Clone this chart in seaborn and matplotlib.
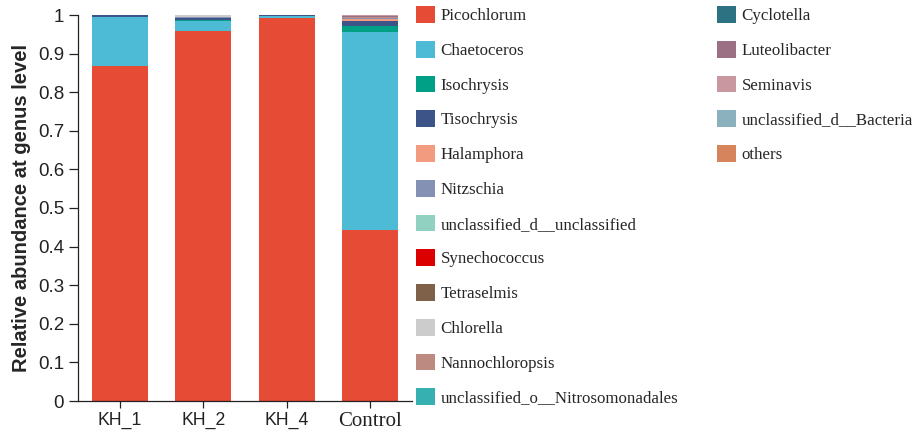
import matplotlib
matplotlib.use("Agg")
import matplotlib.pyplot as plt
import seaborn as sns
import numpy as np
import pandas as pd
from matplotlib.patches import Patch

samples = ["KH_1", "KH_2", "KH_4", "Control"]

genera = [
    "Picochlorum", "Chaetoceros", "Isochrysis", "Tisochrysis", "Halamphora",
    "Nitzschia", "unclassified_d__unclassified", "Synechococcus", "Tetraselmis",
    "Chlorella", "Nannochloropsis", "unclassified_o__Nitrosomonadales",
    "Cyclotella", "Luteolibacter", "Seminavis", "unclassified_d__Bacteria", "others",
]

colors = [
    "#E64B35", "#4DBBD5", "#00A087", "#3C5488", "#F39B7F",
    "#8491B4", "#91D1C2", "#DC0000", "#7E6148",
    "#CCCCCC", "#BC8A80", "#36B0B0",
    "#2D7282", "#9B6F84", "#C8979F", "#8BB1BF", "#D6845C",
]

# relative abundance per genus, in sample order KH_1, KH_2, KH_4, Control
picochlorum = [0.868, 0.958, 0.993, 0.443]
chaetoceros = [0.126, 0.027, 0.005, 0.512]
isochrysis = [0.000, 0.001, 0.000, 0.016]
tisochrysis = [0.005, 0.006, 0.001, 0.014]
halamphora = [0.001, 0.001, 0.000, 0.005]
nitzschia = [0.000, 0.003, 0.000, 0.003]
uncl_d_unclassified = [0.000, 0.000, 0.000, 0.000]
synechococcus = [0.000, 0.000, 0.000, 0.000]
tetraselmis = [0.000, 0.000, 0.000, 0.000]
chlorella = [0.000, 0.003, 0.000, 0.000]
nannochloropsis = [0.000, 0.000, 0.000, 0.003]
uncl_o_nitrosomonadales = [0.000, 0.000, 0.000, 0.000]
cyclotella = [0.000, 0.000, 0.000, 0.000]
luteolibacter = [0.000, 0.000, 0.000, 0.002]
seminavis = [0.000, 0.000, 0.000, 0.001]
uncl_d_bacteria = [0.000, 0.001, 0.000, 0.000]
others = [0.000, 0.000, 0.001, 0.001]

abundance = [
    picochlorum, chaetoceros, isochrysis, tisochrysis, halamphora, nitzschia,
    uncl_d_unclassified, synechococcus, tetraselmis, chlorella, nannochloropsis,
    uncl_o_nitrosomonadales, cyclotella, luteolibacter, seminavis,
    uncl_d_bacteria, others,
]

sans = "Liberation Sans"
serif = "Liberation Serif"

sns.set_theme(style="ticks")
plt.rcParams["font.family"] = [sans, "DejaVu Sans"]

fig = plt.figure(figsize=(9.21, 4.37), dpi=100)
ax = fig.add_axes([78 / 921, 36 / 437, 334 / 921, 386 / 437])

bottom = np.zeros(len(samples))
for name, vals, col in zip(genera, abundance, colors):
    df = pd.DataFrame({"sample": samples, "value": vals})
    sns.barplot(data=df, x="sample", y="value", order=samples, color=col,
                width=0.665, bottom=bottom.copy(), errorbar=None,
                saturation=1, linewidth=0, ax=ax)
    bottom += np.array(vals)

ax.set_xlim(-0.5, 3.5)
ax.set_ylim(0, 1)
ax.set_yticks(np.arange(0, 1.01, 0.1))
ax.set_yticklabels(["0", "0.1", "0.2", "0.3", "0.4", "0.5", "0.6", "0.7",
                    "0.8", "0.9", "1"], fontsize=13.5, family=sans)
ax.set_xticks(range(len(samples)))
ax.set_xticklabels(samples)
for lab in ax.get_xticklabels():
    if lab.get_text() == "Control":
        lab.set_fontfamily(serif)
        lab.set_fontsize(15)
    else:
        lab.set_fontfamily(sans)
        lab.set_fontsize(12.7)

ax.set_xlabel("")
ax.set_ylabel("Relative abundance at genus level", fontsize=14.5,
              fontweight="bold", family=sans, labelpad=5)
sns.despine(ax=ax)
for s in ["left", "bottom"]:
    ax.spines[s].set_linewidth(0.9)
    ax.spines[s].set_color("#222222")
ax.tick_params(axis="y", length=6.5, width=0.9, pad=3.5, colors="#222222")
ax.tick_params(axis="x", length=5, width=0.9, pad=3, colors="#222222")

handles = [Patch(facecolor=c, edgecolor="none") for c in colors]
leg_kw = dict(frameon=False, handlelength=1.15, handleheight=1.15,
              handletextpad=0.3, labelspacing=0.98, borderpad=0,
              borderaxespad=0, loc="upper left",
              prop={"family": serif, "size": 12.2})
leg1 = fig.legend(handles[:12], genera[:12],
                  bbox_to_anchor=(416 / 921, 1 - 6 / 437), **leg_kw)
leg2 = fig.legend(handles[12:], genera[12:],
                  bbox_to_anchor=(717 / 921, 1 - 6 / 437), **leg_kw)

fig.savefig("out.png", dpi=100)
